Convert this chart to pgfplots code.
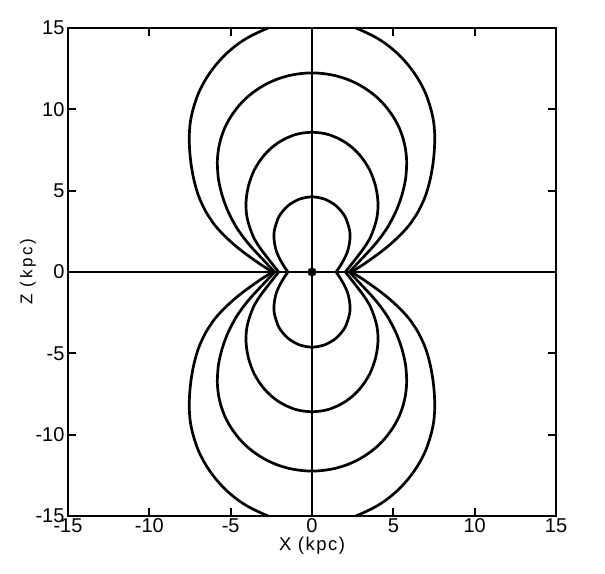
\documentclass[border=0pt]{standalone}
\usepackage{fontspec}
\setmainfont{Liberation Sans}
\usepackage{pgfplots}
\pgfplotsset{compat=1.18}
\usepackage{pgfplotstable}

% upper lobes, from the right crossing over the top to the left crossing
\pgfplotstableread{
x z
1.48 0
1.75 0.40
1.98 0.80
2.18 1.25
2.30 1.75
2.34 2.20
2.30 2.62
2.03 3.41
1.50 4.05
0.80 4.47
0 4.62
-0.80 4.47
-1.50 4.05
-2.03 3.41
-2.30 2.62
-2.34 2.20
-2.30 1.75
-2.18 1.25
-1.98 0.80
-1.75 0.40
-1.48 0
}\curveA

\pgfplotstableread{
x z
2.05 0
2.42 0.47
2.80 0.95
3.20 1.49
3.55 2.05
3.82 2.72
4.00 3.40
4.06 4.05
4.02 4.68
3.92 5.23
3.75 5.79
3.52 6.32
3.22 6.81
2.87 7.26
2.47 7.65
2.03 7.98
1.55 8.24
1.05 8.44
0.53 8.55
0 8.59
-0.53 8.55
-1.05 8.44
-1.55 8.24
-2.03 7.98
-2.47 7.65
-2.87 7.26
-3.22 6.81
-3.52 6.32
-3.75 5.79
-3.92 5.23
-4.02 4.68
-4.06 4.05
-4.00 3.40
-3.82 2.72
-3.55 2.05
-3.20 1.49
-2.80 0.95
-2.42 0.47
-2.05 0
}\curveB

\pgfplotstableread{
x z
2.30 0
3.00 0.75
3.61 1.40
4.10 1.98
4.63 2.72
5.15 3.70
5.52 4.70
5.75 5.70
5.82 6.70
5.76 7.47
5.62 8.13
5.38 8.82
5.04 9.47
4.62 10.07
4.12 10.62
3.54 11.10
2.91 11.50
2.23 11.82
1.51 12.05
0.76 12.19
0 12.24
-0.76 12.19
-1.51 12.05
-2.23 11.82
-2.91 11.50
-3.54 11.10
-4.12 10.62
-4.62 10.07
-5.04 9.47
-5.38 8.82
-5.62 8.13
-5.76 7.47
-5.82 6.70
-5.75 5.70
-5.52 4.70
-5.15 3.70
-4.63 2.72
-4.10 1.98
-3.61 1.40
-3.00 0.75
-2.30 0
}\curveC

\pgfplotstableread{
x z
2.45 0
3.50 0.70
4.45 1.40
5.25 2.10
5.95 2.85
6.55 3.75
7.00 4.75
7.30 5.85
7.48 7.00
7.55 8.20
7.48 9.21
7.29 10.08
6.98 10.99
6.54 11.84
5.99 12.63
5.34 13.35
4.60 13.98
3.78 14.50
2.58 15.04
1.31 15.37
0 15.48
-1.31 15.37
-2.58 15.04
-3.78 14.50
-4.60 13.98
-5.34 13.35
-5.99 12.63
-6.54 11.84
-6.98 10.99
-7.29 10.08
-7.48 9.21
-7.55 8.20
-7.48 7.00
-7.30 5.85
-7.00 4.75
-6.55 3.75
-5.95 2.85
-5.25 2.10
-4.45 1.40
-3.50 0.70
-2.45 0
}\curveD

\begin{document}
\begin{tikzpicture}
\useasboundingbox (-68pt,-57pt) rectangle (537pt,516pt);
\begin{axis}[
  at={(0,0)}, anchor=south west,
  scale only axis, width=488pt, height=488pt,
  xmin=-15, xmax=15, ymin=-15, ymax=15,
  xtick={-15,-10,-5,0,5,10,15},
  xticklabels={-15,-10,-5,0,5,10,15},
  ytick={-15,-10,-5,0,5,10,15},
  yticklabels={-15,-10,-5,0,5,10,15},
  major tick length=8pt,
  tick style={line width=1.8pt, black},
  axis line style={line width=2.7pt},
  ticklabel style={font=\fontsize{20}{22}\selectfont},
  xticklabel style={yshift=1pt},
  xlabel={X (kpc)},
  ylabel={Z (kpc)},
  xlabel style={at={(axis description cs:0.5,-0.071)}, anchor=base, inner sep=0pt,
    font=\fontsize{18.5}{20}\selectfont\addfontfeature{LetterSpace=8}},
  ylabel style={at={(axis description cs:-0.0732,0.5)}, anchor=base, inner sep=0pt,
    font=\fontsize{17}{19}\selectfont\addfontfeature{LetterSpace=15}},
]
\pgfplotsset{curve/.style={black, solid, no marks, line width=2.7pt, line join=round, smooth, tension=0.5}}
\addplot[curve] table[x=x, y=z] {\curveA};
\addplot[curve] table[x=x, y expr=-\thisrow{z}] {\curveA};
\addplot[curve] table[x=x, y=z] {\curveB};
\addplot[curve] table[x=x, y expr=-\thisrow{z}] {\curveB};
\addplot[curve] table[x=x, y=z] {\curveC};
\addplot[curve] table[x=x, y expr=-\thisrow{z}] {\curveC};
\addplot[curve] table[x=x, y=z] {\curveD};
\addplot[curve] table[x=x, y expr=-\thisrow{z}] {\curveD};
\addplot[black, solid, no marks, line width=2.7pt] coordinates {(-15,0) (15,0)};
\addplot[black, solid, no marks, line width=2.7pt] coordinates {(0,-15) (0,15)};
\addplot[black, only marks, mark=*, mark size=4.2pt] coordinates {(0,0)};
\end{axis}
\end{tikzpicture}
\end{document}
